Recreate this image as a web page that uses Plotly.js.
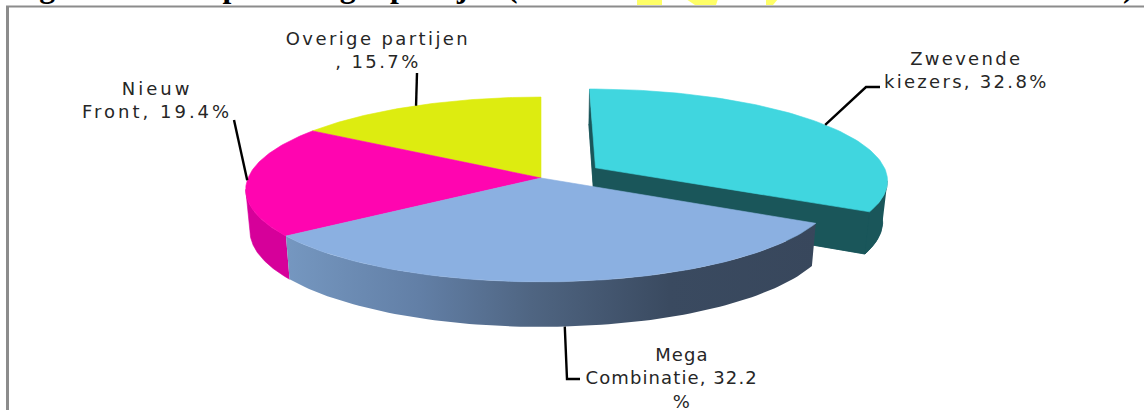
<!DOCTYPE html>
<html>
<head>
<meta charset="utf-8">
<script src="https://cdn.plot.ly/plotly-3.0.1.min.js"></script>
<style>html,body{margin:0;padding:0;background:#fff;overflow:hidden}#chart{width:1144px;height:410px}</style>
</head>
<body>
<div id="chart"></div>
<script>
// Data
var categories = ["Zwevende kiezers", "Mega Combinatie", "Nieuw Front", "Overige partijen"];
var values = [32.8, 32.2, 19.4, 15.7];
var sliceLabels = ["Zwevende<br>kiezers, 32.8%", "Mega<br>Combinatie, 32.2\u00A0\u00A0\u00A0<br>%", "Nieuw<br>Front, 19.4%", "Overige partijen<br>, 15.7%"];
var topColors = ["#40D6DF", "#8BB0E1", "#FF05B0", "#DDEC10"];
var wallColors = ["#1A565A", "#3A4A60", "#D6009A", "#A8B40C"];
var pulls = [0.22, 0, 0, 0];
var titleText = "Figuur 1: Stem percentages partijen (verdeel het totaal 1000 met zwevende kiezers)";

// Projection of the tilted pie onto the page axes
var CX = 541, CY = 178, R = 293, H = 91, K = 0.124, S = 0.986;
function w(v) { return 1 + K * v; }
function topPt(u, v) { return [CX + R * u / w(v), CY - H * v / w(v)]; }
function botPt(u, v) {
  return [CX + S * R * u / w(v), CY - S * H * v / w(v) + 40.5 - 6 * v];
}
var total = values.reduce(function (a, b) { return a + b; }, 0);
var slices = [], acc = 0;
values.forEach(function (val, i) {
  var a1 = acc / total * 2 * Math.PI; acc += val;
  var a2 = acc / total * 2 * Math.PI;
  var mid = (a1 + a2) / 2;
  slices.push({ a1: a1, a2: a2, mid: mid,
    ou: pulls[i] * Math.sin(mid), ov: pulls[i] * Math.cos(mid) });
});
function arc(s, a1, a2, fn) {
  var pts = [], n = 90;
  for (var j = 0; j <= n; j++) {
    var a = a1 + (a2 - a1) * j / n;
    pts.push(fn(s.ou + Math.sin(a), s.ov + Math.cos(a)));
  }
  return pts;
}
// Angle of the slice's silhouette point (extreme x on its top arc)
function extremeAngle(s, sign) {
  var best = s.a1, bestX = -Infinity;
  for (var j = 0; j <= 400; j++) {
    var a = s.a1 + (s.a2 - s.a1) * j / 400;
    var x = sign * topPt(s.ou + Math.sin(a), s.ov + Math.cos(a))[0];
    if (x > bestX) { bestX = x; best = a; }
  }
  return best;
}
function poly(pts, color) {
  return { type: "scatter", mode: "lines", x: pts.map(function (p) { return p[0]; }),
    y: pts.map(function (p) { return p[1]; }), fill: "toself", fillcolor: color,
    line: { width: 0.6, color: color }, hoverinfo: "skip", showlegend: false };
}
function sector(s, fn) {
  return [fn(s.ou, s.ov)].concat(arc(s, s.a1, s.a2, fn)).concat([fn(s.ou, s.ov)]);
}
function wallOuter(s, a1, a2) {
  return arc(s, a1, a2, topPt).concat(arc(s, a1, a2, botPt).reverse());
}
function radial(s, a) {
  var ce = [s.ou, s.ov], ed = [s.ou + Math.sin(a), s.ov + Math.cos(a)];
  return [topPt(ce[0], ce[1]), topPt(ed[0], ed[1]), botPt(ed[0], ed[1]), botPt(ce[0], ce[1])];
}

var traces = [];
// Zwevende (pulled slice): floor, walls, top
var z = slices[0];
traces.push(poly(sector(z, botPt), wallColors[0]));
traces.push(poly(radial(z, z.a1), wallColors[0]));
traces.push(poly(radial(z, z.a2), wallColors[0]));
traces.push(poly(wallOuter(z, extremeAngle(z, 1), z.a2), wallColors[0]));
traces.push(poly(sector(z, topPt), topColors[0]));
// Overige top
traces.push(poly(sector(slices[3], topPt), topColors[3]));
// Nieuw Front wall + top
var nf = slices[2];
traces.push(poly(wallOuter(nf, nf.a1, extremeAngle(nf, -1)), wallColors[2]));
traces.push(poly(sector(nf, topPt), topColors[2]));
// Mega wall with gradient + top
var mc = slices[1];
var wallMega = poly(wallOuter(mc, mc.a1, mc.a2), wallColors[1]);
wallMega.line = { width: 0 };
delete wallMega.fillcolor;
wallMega.fillgradient = { type: "horizontal", start: 287, stop: 818,
  colorscale: [[0, "#7597C0"], [0.25, "#627FA6"], [0.46, "#4F6582"], [0.72, "#3A4A60"], [1, "#38475C"]] };
traces.push(wallMega);
traces.push(poly(sector(mc, topPt), topColors[1]));

// Leader lines: pie end from the slice mid-angle, other end at the label
function anchor(i) {
  var s = slices[i], u = s.ou + Math.sin(s.mid), v = s.ov + Math.cos(s.mid);
  return i === 1 ? botPt(u, v) : topPt(u, v);
}
var leaderTails = [[[866, 87], [880, 87]], [[567, 379], [580, 379]], [[234, 120]], [[417, 73]]];
leaderTails.forEach(function (tail, i) {
  var pts = [anchor(i)].concat(tail);
  traces.push({ type: "scatter", mode: "lines", x: pts.map(function (p) { return p[0]; }),
    y: pts.map(function (p) { return p[1]; }), line: { color: "#000", width: 2.4 },
    hoverinfo: "skip", showlegend: false });
});

var labelPos = [[966, 70], [682, 378], [157, 100], [378, 50]];
var labelTracking = ["2.3px", "1.1px", "3px", "2.4px"];
var annotations = sliceLabels.map(function (t, i) {
  return { text: t, x: labelPos[i][0], y: labelPos[i][1], xref: "x", yref: "y", showarrow: false,
    xanchor: "center", yanchor: "middle", align: "center",
    font: { family: "DejaVu Sans", size: 18, color: "#262626" } };
});
annotations.push({ text: "<b>" + titleText + "</b>", x: 9, y: 6, xref: "x", yref: "y", showarrow: false,
  xanchor: "left", yanchor: "bottom", align: "left",
  font: { family: "Liberation Serif", size: 31.7, color: "#000" } });

function blob(x0, x1, x2, x3) {
  return { type: "path", xref: "x", yref: "y", layer: "below", fillcolor: "#FFFF66", line: { width: 0 },
    path: "M" + x0 + ",-1 L" + x3 + ",-1 L" + x2 + ",5 L" + x1 + ",5 Z" };
}
var shapes = [
  blob(637, 637, 662, 662), blob(686, 695, 716, 718), blob(766, 766, 773, 778),
  { type: "line", xref: "x", yref: "y", x0: 7.5, x1: 7.5, y0: 6, y1: 410, line: { color: "#8c8c8c", width: 3 } },
  { type: "line", xref: "x", yref: "y", x0: 6, x1: 1144, y0: 6.5, y1: 6.5, line: { color: "#8c8c8c", width: 2 } }
];

var layout = {
  width: 1144, height: 410, margin: { l: 0, r: 0, t: 0, b: 0 }, showlegend: false,
  paper_bgcolor: "#fff", plot_bgcolor: "#fff",
  xaxis: { range: [0, 1144], visible: false, fixedrange: true },
  yaxis: { range: [410, 0], visible: false, fixedrange: true },
  annotations: annotations, shapes: shapes
};
Plotly.newPlot("chart", traces, layout, { displayModeBar: false, staticPlot: true }).then(function () {
  // The reference's labels are widely set: open them up by tracking
  document.querySelectorAll("#chart .annotation-text").forEach(function (el, i) {
    if (i < sliceLabels.length) el.style.letterSpacing = labelTracking[i];
  });
});
</script>
</body>
</html>
